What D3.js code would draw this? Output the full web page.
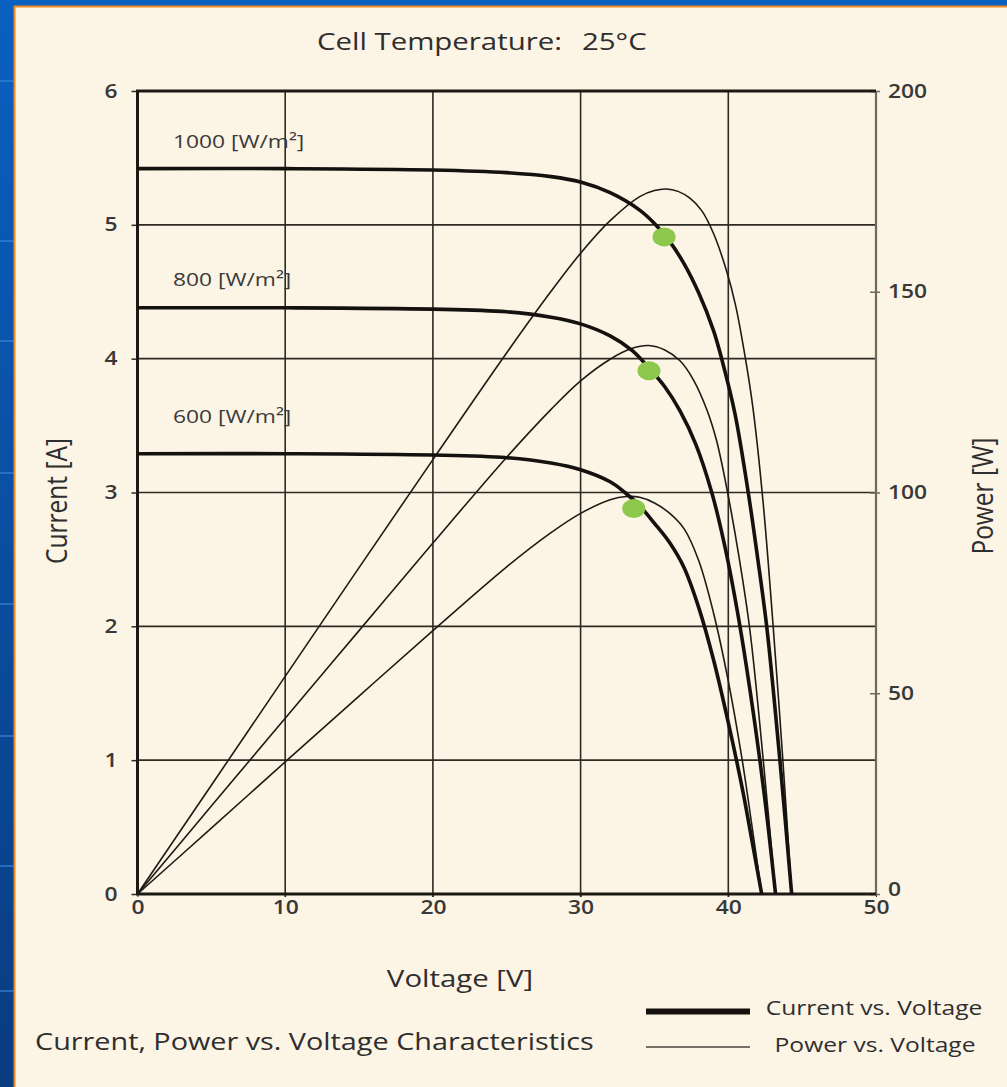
<!DOCTYPE html>
<html>
<head>
<meta charset="utf-8">
<script src="https://cdn.jsdelivr.net/npm/d3@7"></script>
<style>
    body { margin: 0; background: #0b4f9e; }
    svg { display: block; }
    .tick text { font-family: "Open Sans", sans-serif; font-size: 19px; font-weight: 600; fill: #383838; }
</style>
</head>
<body>
<svg id="chart" width="1007" height="1087"></svg>
<script>
// irradiance levels shown on the chart
const irradiance = ["1000", "800", "600"];

// current vs voltage, [V, A]
const current1000 = [[0, 5.42], [10, 5.42], [20, 5.41], [25, 5.39], [28, 5.36], [30, 5.32], [32, 5.24], [34, 5.11], [35, 5.01], [36, 4.88], [37, 4.71], [38, 4.49], [39, 4.21], [39.55, 4.0], [40.45, 3.59], [41.35, 3.0], [42, 2.5], [42.62, 1.98], [43.5, 0.99], [44.29, 0]];
const current800 = [[0, 4.38], [10, 4.38], [20, 4.37], [25, 4.35], [28, 4.31], [30, 4.26], [32, 4.17], [33.5, 4.06], [34.63, 3.93], [35.7, 3.79], [36.73, 3.61], [37.8, 3.36], [38.88, 3.0], [39.8, 2.58], [40.79, 2.0], [41.5, 1.5], [42.15, 0.99], [42.7, 0.5], [43.2, 0]];
const current600 = [[0, 3.29], [10, 3.29], [20, 3.28], [25, 3.26], [28, 3.22], [30, 3.17], [32, 3.08], [33, 3.0], [34, 2.9], [35, 2.77], [36, 2.63], [37, 2.44], [38, 2.14], [39, 1.75], [40, 1.28], [41, 0.76], [41.6, 0.4], [42.26, 0]];

// power vs voltage, [V, W]
const power1000 = [[0, 0], [5, 27.1], [10, 54.2], [15, 81.3], [20, 108.2], [25, 134.8], [28, 150.1], [30, 159.6], [32, 167.7], [34, 173.7], [35, 175.2], [35.8, 175.6], [36.6, 175], [37.4, 173.3], [38.2, 170.2], [39, 164.5], [39.9, 155], [40.5, 146.5], [41.13, 134], [41.67, 121], [42.37, 97], [43.03, 67], [43.7, 33], [44.29, 0]];
const power800 = [[0, 0], [5, 21.9], [10, 43.8], [15, 65.6], [20, 87.4], [25, 108.8], [28, 120.7], [30, 127.8], [32, 133.2], [33.5, 135.9], [34.6, 136.6], [35.7, 135.5], [36.73, 132.8], [37.6, 128.3], [38.56, 120.5], [39.2, 113], [39.9, 101], [40.7, 84.5], [41.47, 65.5], [42.35, 34], [43.2, 0]];
const power600 = [[0, 0], [5, 16.4], [10, 32.9], [15, 49.3], [20, 65.6], [25, 81.5], [28, 90], [30, 94.8], [32, 98.2], [33.1, 99], [34, 98.8], [35, 97.4], [36, 94.9], [37, 91], [38, 83], [39, 70], [40, 53], [41, 32], [41.6, 17], [42.26, 0]];

// maximum power points (green dots), [V, A]
const mppPoints = [[35.65, 4.91], [34.63, 3.91], [33.6, 2.88]];

// tick values
const voltageTicks = [0, 10, 20, 30, 40, 50];
const currentTicks = [0, 1, 2, 3, 4, 5, 6];
const powerTicks = [0, 50, 100, 150, 200];

document.addEventListener("DOMContentLoaded", () => {
    const width = 1007;
    const height = 1087;
    const stretch = 1.2; // the source picture is stretched sideways
    const sans = "'Open Sans', sans-serif";
    const ink = "#2e2e2e";
    const svg = d3.select("#chart");

    const currents = [current1000, current800, current600];
    const powers = [power1000, power800, power600];

    const scaleX = d3.scaleLinear().domain([0, 50]).range([137.5, 876]); // Voltage
    const scaleY = d3.scaleLinear().domain([0, 6]).range([894, 91]); // Current
    const scaleP = d3.scaleLinear().domain([0, 200]).range([894, 91]); // Power

    // helper for stretched text
    const addText = (x, y, str, size, anchor, rotate) => {
        const t = svg.append("text")
            .attr("transform", rotate
                ? `translate(${x},${y}) rotate(-90) scale(1,${stretch})`
                : `translate(${x},${y}) scale(${stretch},1)`)
            .attr("text-anchor", anchor)
            .attr("font-family", sans).attr("font-size", size).attr("fill", ink)
            .text(str);
        return t;
    };

    // slide background: blue frame with a cream panel
    const defs = svg.append("defs");
    const grad = defs.append("linearGradient").attr("id", "blue").attr("x1", 0).attr("y1", 0).attr("x2", 0).attr("y2", 1);
    grad.append("stop").attr("offset", "0%").attr("stop-color", "#0a60c0");
    grad.append("stop").attr("offset", "100%").attr("stop-color", "#0a3c80");
    svg.append("rect").attr("width", width).attr("height", height).attr("fill", "url(#blue)");
    [80, 240, 340, 472, 603, 735, 865, 990].forEach((yy) => {
        svg.append("rect").attr("x", 0).attr("y", yy).attr("width", 14).attr("height", 2)
            .attr("fill", "#3b86d8").attr("opacity", 0.6);
    });
    svg.append("rect").attr("x", 14).attr("y", 6).attr("width", width - 14).attr("height", height - 6)
        .attr("fill", "#fcf4e5");
    svg.append("path").attr("d", `M14.5,${height} V6.5 H${width}`)
        .attr("fill", "none").attr("stroke", "#f0861e").attr("stroke-width", 2);

    // grid lines
    svg.append("g").selectAll("line")
        .data(voltageTicks.slice(1, -1))
        .enter().append("line")
        .attr("x1", (d) => scaleX(d)).attr("x2", (d) => scaleX(d))
        .attr("y1", scaleY(6)).attr("y2", scaleY(0) + 3)
        .attr("stroke", "#2e2a24").attr("stroke-width", 1.6);
    svg.append("g").selectAll("line")
        .data(currentTicks.slice(1, -1))
        .enter().append("line")
        .attr("x1", scaleX(0)).attr("x2", scaleX(50))
        .attr("y1", (d) => scaleY(d)).attr("y2", (d) => scaleY(d))
        .attr("stroke", "#2e2a24").attr("stroke-width", 1.6);

    // stretch axis labels the same way as the rest of the text
    const stretchTicks = (g) => {
        g.selectAll(".tick text").each(function () {
            const x = +this.getAttribute("x") || 0;
            d3.select(this).attr("x", 0).attr("transform", `translate(${x},0) scale(${stretch},1)`);
        });
    };

    // axes
    const yAxis = d3.axisLeft(scaleY).tickValues(currentTicks).tickFormat(d3.format("d"))
        .tickSizeInner(6).tickSizeOuter(0).tickPadding(14);
    const gy = svg.append("g").attr("transform", `translate(${scaleX(0)},0)`).call(yAxis);
    gy.select(".domain").remove();
    gy.selectAll(".tick line").attr("stroke", "#2e2a24").attr("stroke-width", 1.5);
    stretchTicks(gy);

    const xAxis = d3.axisBottom(scaleX).tickValues(voltageTicks).tickSize(3).tickPadding(4);
    const gx = svg.append("g").attr("transform", `translate(0,${scaleY(0)})`).call(xAxis);
    gx.select(".domain").remove();
    gx.selectAll(".tick line").attr("stroke", "#2e2a24");
    stretchTicks(gx);

    const pAxis = d3.axisRight(scaleP).tickValues(powerTicks).tickSizeInner(4).tickSizeOuter(0).tickPadding(8);
    const gp = svg.append("g").attr("transform", `translate(${scaleX(50)},0)`).call(pAxis);
    gp.select(".domain").remove();
    gp.selectAll(".tick line").attr("x1", -6).attr("stroke", "#6e695e").attr("stroke-width", 1.5);
    gp.selectAll(".tick text").attr("dy", (d) => (d === 0 ? "0.1em" : "0.32em"));
    stretchTicks(gp);

    // frame: right axis lighter, top/left/bottom heavy
    svg.append("line")
        .attr("x1", scaleX(50)).attr("x2", scaleX(50)).attr("y1", scaleY(6)).attr("y2", scaleY(0))
        .attr("stroke", "#6e695e").attr("stroke-width", 2.2);
    svg.append("path")
        .attr("d", `M${scaleX(50)},${scaleY(6)} H${scaleX(0)} V${scaleY(0)} H${scaleX(50)}`)
        .attr("fill", "none").attr("stroke", "#1c1814").attr("stroke-width", 3);

    // power curves (thin)
    const powerLine = d3.line().x((d) => scaleX(d[0])).y((d) => scaleP(d[1])).curve(d3.curveCatmullRom.alpha(0.5));
    svg.append("g").selectAll("path")
        .data(powers)
        .enter().append("path")
        .attr("d", powerLine)
        .attr("fill", "none").attr("stroke", "#1e1a16").attr("stroke-width", 1.6);

    // current curves (thick)
    const currentLine = d3.line().x((d) => scaleX(d[0])).y((d) => scaleY(d[1])).curve(d3.curveCatmullRom.alpha(0.5));
    svg.append("g").selectAll("path")
        .data(currents)
        .enter().append("path")
        .attr("d", currentLine)
        .attr("fill", "none").attr("stroke", "#14110e").attr("stroke-width", 3.6);

    // max power points
    svg.append("g").selectAll("ellipse")
        .data(mppPoints)
        .enter().append("ellipse")
        .attr("cx", (d) => scaleX(d[0])).attr("cy", (d) => scaleY(d[1]))
        .attr("rx", 11.5).attr("ry", 9.5)
        .attr("fill", "#8cc84b");

    // irradiance labels above each current curve
    const labelBaselines = [148, 286, 423];
    irradiance.forEach((d, i) => {
        addText(173, labelBaselines[i], `${d} [W/m²]`, 19, "start").attr("fill", "#3a3a3a");
    });

    // titles
    addText(317, 50, "Cell Temperature:", 24.5, "start");
    addText(582, 50, "25°C", 24.5, "start");
    addText(460, 987, "Voltage [V]", 24.5, "middle");
    addText(67, 501, "Current [A]", 24.5, "middle", true);
    addText(993, 496, "Power [W]", 24.5, "middle", true);
    addText(35, 1050, "Current, Power vs. Voltage Characteristics", 24, "start");

    // legend
    svg.append("line").attr("x1", 646).attr("x2", 750).attr("y1", 1011.5).attr("y2", 1011.5)
        .attr("stroke", "#14110e").attr("stroke-width", 6);
    svg.append("line").attr("x1", 646).attr("x2", 750).attr("y1", 1047).attr("y2", 1047)
        .attr("stroke", "#4a463e").attr("stroke-width", 1.5);
    addText(874, 1015, "Current vs. Voltage", 20.5, "middle");
    addText(875, 1052, "Power vs. Voltage", 20.5, "middle");
});
</script>
</body>
</html>
